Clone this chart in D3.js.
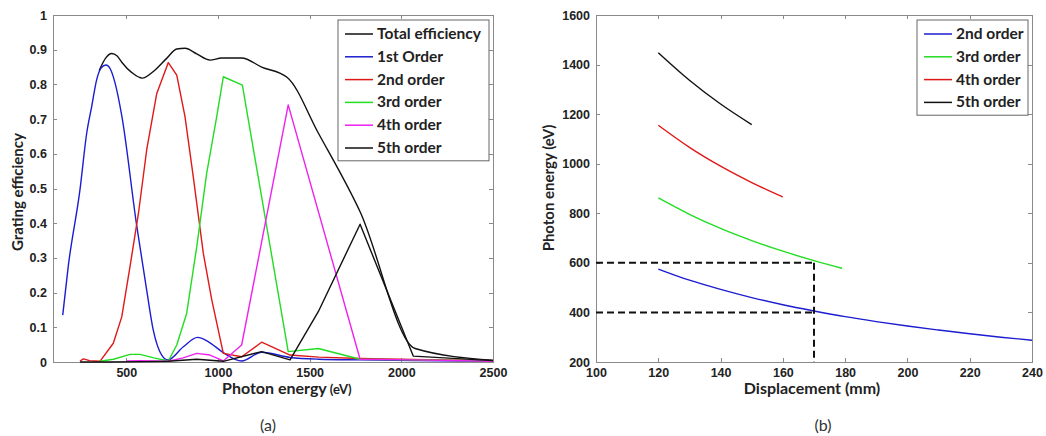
<!DOCTYPE html>
<html>
<head>
  <script src="https://cdn.jsdelivr.net/npm/d3@7"></script>
  <style>
    * { margin: 0; padding: 0; }
    body { background: white; }
    .tick text { font-family: "Liberation Sans", Arial, sans-serif; font-weight: bold; font-size: 12.5px; fill: #222; }
    .axis path, .axis line { stroke: #8a8a8a; shape-rendering: crispEdges; }
    .title { font-family: Lato, "Open Sans", sans-serif; font-weight: bold; fill: #222; }
    .legend text { font-family: Lato, "Open Sans", sans-serif; font-weight: bold; font-size: 15.5px; fill: #222; }
    .caption { font-family: Lato, "Open Sans", sans-serif; font-size: 16px; fill: #333; }
  </style>
</head>
<body>
<script>
// ---- data, panel (a): grating efficiency vs photon energy
var energyTotal = [352, 389, 420, 450, 475, 530, 587, 647, 720, 775, 820, 884, 956, 1020, 1129, 1238, 1378, 1547, 1775, 2075, 2500];
var effTotal    = [0.84, 0.877, 0.889, 0.882, 0.864, 0.834, 0.818, 0.837, 0.875, 0.902, 0.904, 0.888, 0.87, 0.876, 0.876, 0.85, 0.82, 0.66, 0.433, 0.039, 0.005];

var energy1 = [153, 183, 247, 284, 311, 338, 362, 389, 412, 438, 475, 556, 611, 647, 693, 727, 811, 889, 946, 1029, 1129, 1238, 1393, 1550, 1775, 2065, 2500];
var eff1    = [0.135, 0.275, 0.496, 0.66, 0.736, 0.813, 0.847, 0.856, 0.845, 0.805, 0.71, 0.395, 0.207, 0.092, 0.02, 0.006, 0.044, 0.071, 0.059, 0.027, 0.003, 0.028, 0.013, 0.008, 0.006, 0.004, 0.002];

var energy2 = [247, 265, 300, 356, 429, 475, 520, 566, 611, 666, 729, 775, 820, 865, 920, 966, 1029, 1129, 1238, 1393, 1550, 1775, 2065, 2500];
var eff2    = [0.002, 0.009, 0.004, 0.002, 0.054, 0.13, 0.275, 0.428, 0.611, 0.774, 0.863, 0.827, 0.707, 0.534, 0.313, 0.179, 0.025, 0.015, 0.057, 0.02, 0.014, 0.01, 0.007, 0.004];

var energy3 = [356, 430, 520, 575, 650, 729, 775, 829, 884, 938, 993, 1029, 1133, 1383, 1547, 1775, 2065, 2500];
var eff3    = [0.002, 0.008, 0.022, 0.022, 0.012, 0.003, 0.049, 0.14, 0.332, 0.543, 0.707, 0.822, 0.798, 0.03, 0.039, 0.008, 0.006, 0.003];

var energy4 = [502, 575, 650, 729, 810, 884, 956, 1029, 1129, 1383, 1775, 2065, 2500];
var eff4    = [0.003, 0.004, 0.003, 0.002, 0.012, 0.025, 0.02, 0.003, 0.049, 0.741, 0.008, 0.006, 0.002];

var energy5 = [247, 400, 600, 729, 884, 1029, 1238, 1393, 1547, 1775, 2065, 2500];
var eff5    = [0.0, 0.0, 0.001, 0.002, 0.008, 0.002, 0.03, 0.006, 0.145, 0.397, 0.017, 0.004];

var namesA = ["Total efficiency", "1st Order", "2nd order", "3rd order", "4th order", "5th order"];
var colorsA = ["#111111", "#1c1cd0", "#e01818", "#22dd22", "#ee22ee", "#111111"];

var effTicks = [0, 0.1, 0.2, 0.3, 0.4, 0.5, 0.6, 0.7, 0.8, 0.9, 1];
var energyTicks = [500, 1000, 1500, 2000, 2500];

// ---- data, panel (b): photon energy vs displacement
var disp2 = [120, 130, 140, 150, 160, 170, 180, 190, 200, 210, 220, 230, 240];
var photon2 = [575, 530, 493, 460, 431, 406, 383, 363, 345, 329, 314, 300, 288];
var disp3 = [120, 130, 140, 150, 160, 170, 179];
var photon3 = [862, 796, 739, 690, 647, 609, 578];
var disp4 = [120, 130, 140, 150, 160];
var photon4 = [1155, 1066, 990, 924, 866];
var disp5 = [120, 130, 140, 150];
var photon5 = [1448, 1337, 1241, 1158];

var namesB = ["2nd order", "3rd order", "4th order", "5th order"];
var colorsB = ["#1c1cd0", "#22dd22", "#e01818", "#111111"];

var dispTicks = [100, 120, 140, 160, 180, 200, 220, 240];
var photonTicks = [200, 400, 600, 800, 1000, 1200, 1400, 1600];

// guide lines: displacement 170 mm -> 400 eV (2nd) and 600 eV (3rd)
var guideDisp = 170;
var guideEnergy = [400, 600];

function zipSeries(xs, ys) {
  return xs.map(function(x, i) { return [x, ys[i]]; });
}

var w = 1046, h = 436;
var svg = d3.select("body").append("svg").attr("width", w).attr("height", h);

// generic framed axes in MATLAB style (ticks inward, box on all sides)
function drawFrame(g, x, y, xt, yt, xfmt, yfmt) {
  var x0 = x.range()[0], x1 = x.range()[1], y0 = y.range()[0], y1 = y.range()[1];
  g.append("g").attr("class", "axis").attr("transform", "translate(0," + y0 + ")")
    .call(d3.axisBottom(x).tickValues(xt).tickSize(-4).tickPadding(6).tickFormat(xfmt));
  g.append("g").attr("class", "axis").attr("transform", "translate(0," + y1 + ")")
    .call(d3.axisTop(x).tickValues(xt).tickSize(-4).tickFormat(""));
  g.append("g").attr("class", "axis").attr("transform", "translate(" + x0 + ",0)")
    .call(d3.axisLeft(y).tickValues(yt).tickSize(-4).tickPadding(6).tickFormat(yfmt));
  g.append("g").attr("class", "axis").attr("transform", "translate(" + x1 + ",0)")
    .call(d3.axisRight(y).tickValues(yt).tickSize(-4).tickFormat(""));
  g.selectAll(".axis .tick line").attr("stroke", "#555");
}

function drawLegend(g, x, y, bw, names, colors) {
  var lg = g.append("g").attr("class", "legend").attr("transform", "translate(" + x + "," + y + ")");
  lg.append("rect").attr("width", bw).attr("height", names.length * 22.8 + 4)
    .attr("fill", "white").attr("stroke", "#666").attr("stroke-width", 1);
  names.forEach(function(n, i) {
    var yy = 14 + i * 22.8;
    lg.append("line").attr("x1", 7).attr("x2", 35).attr("y1", yy).attr("y2", yy)
      .attr("stroke", colors[i]).attr("stroke-width", 1.5);
    lg.append("text").attr("x", 39).attr("y", yy + 5).text(n);
  });
}

// ---------------- panel (a)
var xA = d3.scaleLinear().domain([100, 2500]).range([53, 493]);
var yA = d3.scaleLinear().domain([0, 1]).range([362, 15]);
var gA = svg.append("g");
drawFrame(gA, xA, yA, energyTicks, effTicks, d3.format("d"), d3.format("~g"));

var seriesA = [
  zipSeries(energyTotal, effTotal), zipSeries(energy1, eff1), zipSeries(energy2, eff2),
  zipSeries(energy3, eff3), zipSeries(energy4, eff4), zipSeries(energy5, eff5)
];
seriesA.forEach(function(s, i) {
  var line = d3.line().x(function(d) { return xA(d[0]); }).y(function(d) { return yA(d[1]); })
    .curve(i <= 1 ? d3.curveMonotoneX : d3.curveLinear);
  gA.append("path").datum(s).attr("d", line).attr("fill", "none")
    .attr("stroke", colorsA[i]).attr("stroke-width", 1.4).attr("stroke-linejoin", "round");
});

drawLegend(gA, 338, 20, 151, namesA, colorsA);

gA.append("text").attr("class", "title").attr("x", 222).attr("y", 394)
  .style("font-size", "16px").text("Photon energy")
  .append("tspan").style("font-size", "13px").attr("dx", 3).text("(eV)");
gA.append("text").attr("class", "title").style("font-size", "15px").attr("text-anchor", "middle")
  .attr("transform", "translate(23,192) rotate(-90)").text("Grating efficiency");
gA.append("text").attr("class", "caption").attr("x", 268).attr("y", 431)
  .attr("text-anchor", "middle").text("(a)");

// ---------------- panel (b)
var xB = d3.scaleLinear().domain([100, 240]).range([596, 1032]);
var yB = d3.scaleLinear().domain([200, 1600]).range([362, 15]);
var gB = svg.append("g");
drawFrame(gB, xB, yB, dispTicks, photonTicks, d3.format("d"), d3.format("d"));

var seriesB = [
  zipSeries(disp2, photon2), zipSeries(disp3, photon3),
  zipSeries(disp4, photon4), zipSeries(disp5, photon5)
];
var lineB = d3.line().x(function(d) { return xB(d[0]); }).y(function(d) { return yB(d[1]); })
  .curve(d3.curveMonotoneX);
seriesB.forEach(function(s, i) {
  gB.append("path").datum(s).attr("d", lineB).attr("fill", "none")
    .attr("stroke", colorsB[i]).attr("stroke-width", 1.4);
});

// dashed guides
guideEnergy.forEach(function(e) {
  gB.append("line").attr("x1", xB(100)).attr("x2", xB(guideDisp))
    .attr("y1", yB(e)).attr("y2", yB(e))
    .attr("stroke", "#111").attr("stroke-width", 2).attr("stroke-dasharray", "7,4");
});
gB.append("line").attr("x1", xB(guideDisp)).attr("x2", xB(guideDisp))
  .attr("y1", yB(d3.max(guideEnergy))).attr("y2", yB(200))
  .attr("stroke", "#111").attr("stroke-width", 2).attr("stroke-dasharray", "7,4");

drawLegend(gB, 917, 20, 111, namesB, colorsB);

gB.append("text").attr("class", "title").attr("x", 812).attr("y", 394)
  .attr("text-anchor", "middle").style("font-size", "16px").text("Displacement (mm)");
gB.append("text").attr("class", "title").style("font-size", "15px").attr("text-anchor", "middle")
  .attr("transform", "translate(554,188) rotate(-90)").text("Photon energy (eV)");
gB.append("text").attr("class", "caption").attr("x", 823).attr("y", 431)
  .attr("text-anchor", "middle").text("(b)");
</script>
</body>
</html>
